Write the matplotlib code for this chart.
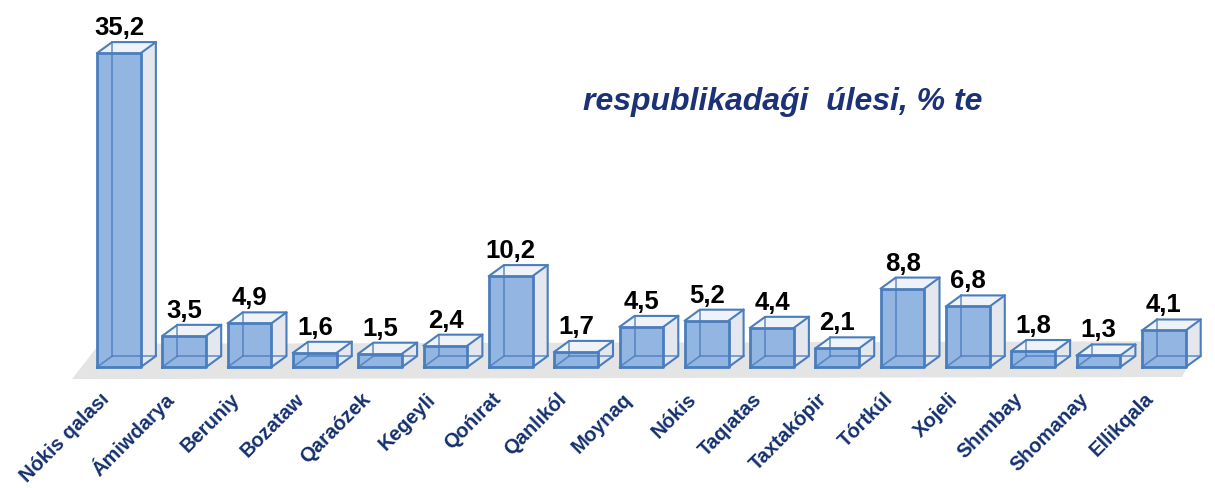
import numpy as np
import matplotlib.pyplot as plt
from matplotlib.patches import Polygon

# data
districts = ['Nókis qalası', 'Ámiwdarya', 'Beruniy', 'Bozataw', 'Qaraózek', 'Kegeyli',
             'Qońırat', 'Qanlıkól', 'Moynaq', 'Nókis', 'Taqıatas', 'Taxtakópir',
             'Tórtkúl', 'Xojeli', 'Shımbay', 'Shomanay', 'Ellikqala']
shares = [35.2, 3.5, 4.9, 1.6, 1.5, 2.4, 10.2, 1.7, 4.5, 5.2, 4.4, 2.1, 8.8, 6.8, 1.8, 1.3, 4.1]
title = 'respublikadaǵi  úlesi, % te'

fonts = ['Liberation Sans', 'DejaVu Sans']
navy = '#14306e'
edge = '#4a7dbd'
front_col = '#92b5e2'
side_col = '#e4e7ed'
top_col = '#eff2f6'

w = 0.67     # bar width (x units)
dx = 0.23    # depth offset in x
dy = 1.23    # depth offset in y (value units)

fig = plt.figure(figsize=(12.15, 4.89), dpi=100)
ax = fig.add_axes([0, 0, 1, 1])
ax.set_xlim(-1.822, 16.784)
ax.set_ylim(-13.56, 41.26)
ax.axis('off')

# floor
n = len(shares)
floor = Polygon([(-0.72, -1.35), (16.28, -1.12), (16.55, 2.9), (-0.3, 2.6)],
                closed=True, facecolor='#e4e4e4', edgecolor='none', zorder=0)
ax.add_patch(floor)

for i, v in enumerate(shares):
    x0 = i - w / 2
    x1 = i + w / 2
    # right side face
    ax.add_patch(Polygon([(x1, 0), (x1 + dx, dy), (x1 + dx, v + dy), (x1, v)],
                         facecolor=side_col, edgecolor='none', zorder=2))
    # top face
    ax.add_patch(Polygon([(x0, v), (x1, v), (x1 + dx, v + dy), (x0 + dx, v + dy)],
                         facecolor=top_col, edgecolor='none', zorder=2))
    # front face
    ax.add_patch(Polygon([(x0, 0), (x1, 0), (x1, v), (x0, v)],
                         facecolor=front_col, edgecolor='none', zorder=3))
    # hidden edges seen through the glass
    ax.plot([x0 + dx, x0 + dx, x1 + dx], [v + dy, dy, dy], color=edge, lw=1.2, alpha=0.8, zorder=4)
    ax.plot([x0, x0 + dx], [0, dy], color=edge, lw=1.2, alpha=0.8, zorder=4)
    # visible back / side edges
    ax.plot([x0, x0 + dx, x1 + dx, x1 + dx, x1], [v, v + dy, v + dy, dy, 0],
            color=edge, lw=1.5, zorder=5)
    ax.plot([x1, x1 + dx], [v, v + dy], color=edge, lw=1.5, zorder=5)
    # front face outline
    ax.plot([x0, x1, x1, x0, x0], [0, 0, v, v, 0], color=edge, lw=2, zorder=5)

    ax.text(i, v + 2.13, f'{v:.1f}'.replace('.', ','), ha='center', va='baseline',
            fontsize=18.5, fontweight='bold', color='black', family=fonts, zorder=6)
    ax.text(i - 0.2, -3.15, districts[i], rotation=45, rotation_mode='anchor',
            ha='right', va='center', fontsize=14.5, fontweight='bold', color=navy,
            family=fonts)

fig.text(0.644, 0.791, title, ha='center', va='center', fontsize=23,
         fontweight='bold', fontstyle='italic', color='#1b3376', family=fonts)

fig.savefig('out.png', dpi=100)
